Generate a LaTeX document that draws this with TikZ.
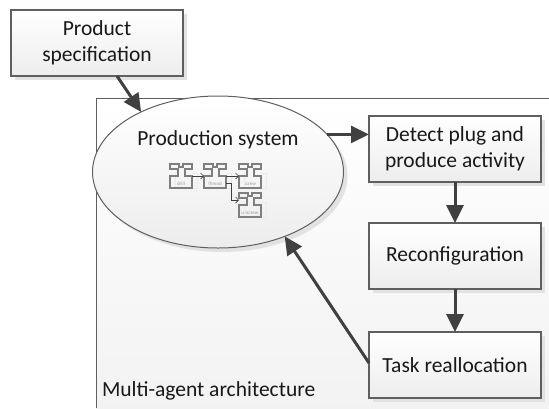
\documentclass[tikz,border=0pt]{standalone}
\usepackage{fontspec}
\setmainfont{Carlito}
\usetikzlibrary{arrows.meta, shadows, shapes.geometric}

\definecolor{linegray}{HTML}{5F5F5F}
\definecolor{arrowgray}{HTML}{404040}
\definecolor{shadowgray}{HTML}{E2E2E2}
\definecolor{bottomgray}{HTML}{EDEDED}
\definecolor{piecegray}{HTML}{7F7F7F}

\begin{document}
\begin{tikzpicture}[x=1pt, y=-1pt, node distance=107pt, semithick,
    >={Triangle[length=18pt, width=17pt]}, outer sep=0pt, align=center,
    every node/.style={font=\fontsize{21.5}{25.5}\selectfont, text=black!90}]

  \tikzstyle{shadowed}=[drop shadow={shadow xshift=4pt, shadow yshift=-4pt,
    fill=shadowgray, opacity=1}]
  \tikzstyle{stepbox}=[draw=linegray, line width=1.1pt, shadowed, top color=white,
    bottom color=bottomgray, minimum width=172pt, minimum height=66pt, inner sep=0pt]
  \tikzstyle{flow}=[->, draw=arrowgray, line width=3pt]
  \tikzstyle{piece}=[font=\fontsize{5}{6}\selectfont, text=black!40, inner xsep=0pt,
    inner ysep=1.5pt, text height=20pt, text depth=1pt, minimum width=22pt]
  \tikzstyle{pieceline}=[draw=piecegray, line width=1.2pt]
  \tikzstyle{pieceback}=[draw=black!8, line width=1pt]
  \tikzstyle{pieceflow}=[-{Straight Barb[length=3pt, width=6pt]}, draw=arrowgray, line width=.7pt]

  \useasboundingbox (0,0) rectangle (549,408);

  % frame
  \coordinate (frameNW) at (96,98);
  \coordinate (frameNE) at (549,98);
  \coordinate (frameSW) at (96,408);
  \coordinate (frameSE) at (549,408);
  \shade[top color=white, bottom color=black!5] (frameNW) rectangle (frameSE);
  \draw[draw=linegray, line width=1pt] (frameSW) -- (frameNW) -- (frameNE);

  \node[stepbox] (SPEC) at (97,43) {Product\\specification};
  \node[draw=linegray, line width=1pt, shadowed, top color=white, bottom color=bottomgray,
    ellipse, minimum width=251pt, minimum height=152pt, inner sep=0pt] (PS) at (218,172) {};
  \node (PSTEXT) at (218,140) {Production system};

  \node[stepbox] (DETECT) at (455,149) {Detect plug and\\produce activity};
  \node[stepbox] (RECONF) [below of=DETECT] {Reconfiguration};
  \node[stepbox, node distance=109pt] (TASK) [below of=RECONF] {Task reallocation};
  \node[anchor=west, inner sep=0pt] (MAS) at (102,391) {Multi-agent architecture};

  \node[piece] (DRILL) at (181,176) {drill};
  \node[piece] (THREAD) at (215,176) {thread};
  \node[piece] (SCREW) at (250,176) {screw};
  \node[piece] (UNSCREW) at (250,205) {unscrew};

  % outline of the pieces
  \foreach \name in {DRILL, THREAD, SCREW, UNSCREW} {
    \draw[pieceback] ([xshift=5pt, yshift=-9pt]\name.north west) -- ++(0,15) -- ++(22,0)
    -- ++(0,-15) -- ++(-5,0);
    \draw[pieceline] (\name.north west) -- ++(9,0) -- ++(0,3) -- ++(4,0) -- ++(0,-3)
    -- ++(9,0) -- ++(0,5) -- ++(-7,0) -- ++(0,7) -- ++(7,0) -- ++(0,12) -- ++(-22,0)
    -- ++(0,-12) -- ++(8,0) -- ++(0,-7) -- ++(-8,0) -- cycle;
  }

  \draw[pieceflow] (DRILL) -- (THREAD);
  \draw[pieceflow] (THREAD) -- (SCREW);
  \draw[pieceflow] ([yshift=-7pt]THREAD.east) -- ++(5,0) |- ([yshift=5pt]UNSCREW.west);

  \draw[flow] ([xshift=20pt]SPEC.south) -- (PS.142);
  \draw[flow] (PS.19) -- (PS.19 -| DETECT.west);
  \draw[flow] (DETECT) -- (RECONF);
  \draw[flow] (RECONF) -- (TASK);
  \draw[flow] ([yshift=2pt]TASK.west) -- (PS.-44);
\end{tikzpicture}
\end{document}
